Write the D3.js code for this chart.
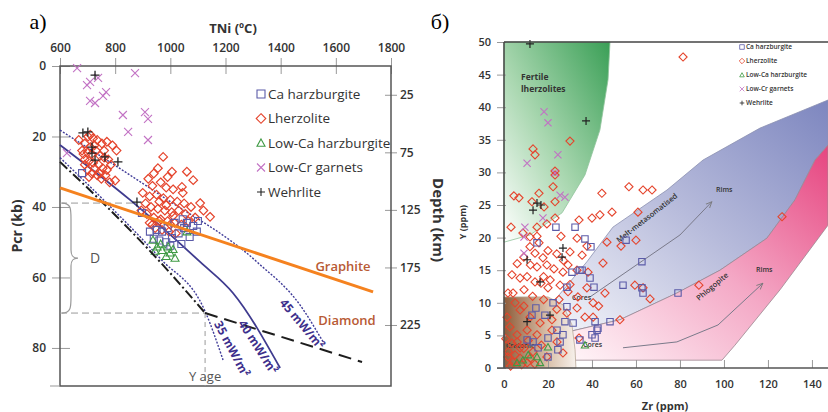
<!DOCTYPE html>
<html>
<head>
<meta charset="utf-8">
<script src="https://cdn.jsdelivr.net/npm/d3@7"></script>
<style>
  body { margin: 0; background: #fff; }
  text { font-family: "Open Sans", "Noto Sans", sans-serif; }
</style>
</head>
<body>
<div id="chart"></div>
<script>
// ---------- panel a) : TNi vs Pcr ----------
const tniTicks = [600, 800, 1000, 1200, 1400, 1600, 1800];
const pcrTicks = [0, 20, 40, 60, 80];
const depthTicks = [25, 75, 125, 175, 225];

const lherzA = [
  [668,21],[690,22],[702,20],[710,19.5],[720,20.5],[735,21],[752,22],[770,21.5],[790,22.5],[805,24],
  [680,24],[700,24.5],[715,25],[730,24],[745,25.5],[760,26],[775,26.5],[690,26.5],[705,27],[720,27.5],
  [740,28],[755,29],[770,29.5],[700,29.5],[715,30.5],[735,31],[750,32],[765,31],[780,33],[800,32.5],
  [690,28],[710,23],[725,22.5],[760,24],[725,29],[685,25],[745,30.5],[785,28],[705,31.5],
  [974,25.8],[955,29],[940,30.5],[1006,30],[1060,30],[1083,32.4],[1042,34.3],[1108,38.9],[1144,42.8],
  [920,32],[935,34],[965,33],[985,34.5],[1010,35],[900,36],[925,37],[950,36.5],[975,37.5],[1000,38],
  [1025,38.5],[1050,39],[1075,40],[910,39],[930,40],[955,40.5],[980,41],[1005,41.5],[1030,41],[1055,42],
  [915,42],[940,43],[965,43.5],[990,44],[1015,44.5],[1040,45],[1065,44],[945,46],[970,46.5],[995,47],
  [1020,47.5],[960,38.5],[985,39.5],[1010,42.5],[935,45],[895,41],[1090,43],[1045,36],[990,31.5],
  [1120,41],[1000,45],[960,44],[925,44.5]
];
const caHarzA = [
  [926,47],[950,46.5],[970,47],[990,46],[1006,48.8],[1030,47.5],[1050,46],[1083,45.4],[1096,47],
  [1070,48.5],[960,49.5],[985,50],[1040,50.5],[1015,44.5],[1060,44.5],[940,49],[1100,44],[897,41.7],
  [680,30.4],[1000,51],[1045,43.5]
];
const lowCaA = [
  [937,49.4],[952,51.3],[965,50.5],[970,52.3],[992,51.3],[999,53],[1010,52],[1017,54.5],[985,54],
  [945,52.5],[1060,47]
];
const lowCrA = [
  [662,0.6],[872,2],[698,5.4],[709,4.5],[738,3.4],[767,7.4],[756,8.5],[709,9.9],[727,10.5],
  [828,13.9],[908,13.1],[919,15],[847,18.7],[919,21],[625,24.7]
];
const wehrA = [
  [727,2.6],[683,19],[701,18.7],[716,23],[716,24.7],[763,25.8],[810,27.2],[727,26.7],[879,38.6]
];

const graphiteLine = [[600,34.6],[1735,64.1]];
const geo45 = [[600,18.2],[963,36.6],[1314,55.6],[1470,67.8],[1554,78.3]];
const geo40 = [[600,22.4],[854,38],[1108,55.6],[1227,64.4],[1398,85.7]];
const geo35 = [[600,26],[781,39.8],[963,54.6],[1126,69.6],[1191,83.4]];
const ageGeotherm = [[600,27.2],[781,40.8],[963,55.6],[1126,70.1]];
const ageTail = [[1126,70.1],[1695,84]];
const dLevels = [38.9, 70.1];
const yAgeT = 1126;

// ---------- panel б) : Zr vs Y ----------
const zrTicks = [0, 20, 40, 60, 80, 100, 120, 140];
const yTicks = [0, 5, 10, 15, 20, 25, 30, 35, 40, 45, 50];

const lherzB = [
  [13.2,33.6],[14.1,32.7],[30,34.8],[23.2,30.2],[23.2,29.6],[22.3,27.8],[4.5,26.4],[6.8,26.1],[15.9,26.8],
  [12.7,25.5],[18.2,24.7],[23.2,25.5],[23.2,23],[19.5,22.1],[15,21.6],[3.2,21.6],[8.6,20.7],[11.8,20.1],
  [15,20.2],[15.9,19.2],[25.9,20.2],[34.1,22.7],[40,23],[43.6,23.5],[49.1,23.9],[44.5,26.8],[56.8,27.8],
  [63.2,27.3],[67.3,27.3],[60.9,23.9],[33.2,19.9],[37.7,18.7],[46.8,19.3],[53.2,18.7],[60,19.6],[45,16.1],
  [126.4,23.2],[35.5,17.3],[11.8,18.6],[14.1,17.6],[17.7,16.9],[81.4,47.7],
  [3.6,14.3],[7.3,13.8],[10.5,14],[15,15.5],[19.5,15.8],[22.7,15.2],[26.8,14.7],[29.1,15.8],[33.2,15],
  [38.2,14.7],[1.8,11.5],[4.1,11.5],[9.1,12],[14.1,13.2],[16.8,13],[20,12.3],[25.5,12.7],[29.1,11.7],
  [33.6,10.9],[37.7,12.3],[40.5,10],[45.9,11.5],[33.2,9.2],[36.8,7.8],[40.5,7.8],[28.6,8.4],[52.7,7.4],
  [59.5,12.7],[63.2,12.3],[66.4,10.6],[88.6,12.7],[34.1,4.6],[26.8,2.3],[7.3,8.9],[11.8,7.8],[16.4,6.9],
  [10.5,5.8],[15,5.1],[5.9,5.1],[21.8,5.8],[3.6,3.8],[7.3,3.1],[13.2,2.5],[19.5,1.7],[1.8,1.7],[4.1,0.9],
  [7.3,1.5],[10.5,0.8],[24.1,4],[21.8,7.4],[1.4,7.8],[2.7,6.3],
  [2,2.5],[5,2],[8,0.5],[12,1.5],[3,0.3],[6,4],[9,3],[11,4.2],[14,0.6],[17,3.5],[0.8,4.5],[9,9.5],
  [5,10],[18,10.5],[24,9],[13,11],[6,16],[9,17],[20,18],[24,17.5],[27,16.5],[30,17.8],[21,13.5],
  [12,15.8],[18,14],[25,10.5],[30,12.8],[43,9.5]
];
const caHarzB = [
  [23.6,21.6],[32.3,21.6],[36.8,19.8],[39.5,18.6],[15,19.2],[55.5,19.6],[62.7,16.3],[35.5,15],
  [30.9,14.7],[34.5,15],[39.1,13.8],[40.9,12.4],[28.6,12.4],[54.1,12.7],[62.7,12.3],[63.2,11.5],
  [79.1,11.5],[22.3,10],[14.5,9.2],[28.6,9.4],[27.7,7.1],[31.4,6.9],[41.4,7.1],[48.2,7.1],[42.7,6.1],
  [42.3,5.8],[40,5.1],[41.4,4.6],[34.5,4.3],[24.1,5.8],[26.8,5.1],[25.5,4],[20,4.6],[10.5,4.3],
  [13.2,4],[15.5,3.1],[24.5,2.8],[20,1.7],[18.6,8.1],[12.7,8.1]
];
const lowCaB = [[8.6,1.2],[16.4,0.8],[15,1.7],[20,3.2],[36.8,3.5],[5.9,0.8],[11,2]];
const lowCrB = [
  [10.5,31.4],[24.5,32.7],[23.2,29.9],[25.5,26.5],[27.7,26.2],[17.7,23],[9.5,21.6],[9.1,20.1],
  [9.1,17.6],[18.2,39.3],[20,37.6]
];
const wehrB = [
  [11.8,49.7],[37.3,37.9],[15,25.3],[13.2,24.2],[16.8,25],[26.8,18.4],[26.4,17],[10.5,16.6],
  [16.4,13.2],[10.5,7.1],[20.9,8.1]
];

const fertileField = [[0,50],[48.2,50],[47.3,44.2],[43.6,36.5],[36.8,29.6],[26.4,23.8],[11.8,20.4],[0,19.3]];
const cratonicField = [[0,10.9],[20,10.9],[26.8,9.7],[30.9,6.6],[32.3,2.8],[32.7,0],[0,0]];
const meltField = [
  [20.9,7.7],[22.3,10.1],[37.7,16.3],[49.5,21.6],[74.1,27.3],[90.5,31.9],[116.4,36.8],[147.3,41.1],
  [147.3,34.2],[141.4,31.9],[132.3,25.8],[119.5,19.9],[98.2,15],[78.6,11.5],[52.7,7.4],[28.6,5.5]
];
const phlogField = [
  [28.6,5.5],[52.7,7.4],[78.6,11.5],[98.2,15],[119.5,19.9],[132.3,25.8],[141.4,31.9],[147.3,34.2],
  [147.3,21.9],[125.5,12],[105,3.5],[99.1,1.2],[31.4,1.2],[30,3.5]
];
const meltArrow = [[39.1,10.9],[80,20.4],[94.5,25.5]];
const phlogArrow = [[54.1,3.1],[78.6,4.0],[97.3,6.6],[117.7,13]];

const legendNames = ['Ca harzburgite', 'Lherzolite', 'Low-Ca harzburgite', 'Low-Cr garnets', 'Wehrlite'];
const legendTypes = ['square', 'diamond', 'triangle', 'cross', 'plus'];
const typeColor = { square: '#5b5ba8', diamond: '#e5442c', triangle: '#3f9a44', cross: '#c272c4', plus: '#222' };

// ---------- setup ----------
const svg = d3.select('#chart').append('svg').attr('width', 828).attr('height', 412);
const defs = svg.append('defs');

function markerPath(type, s) {
  if (type === 'square') return `M${-s},${-s}h${2 * s}v${2 * s}h${-2 * s}Z`;
  if (type === 'diamond') return `M0,${-s * 1.2}L${s * 1.2},0L0,${s * 1.2}L${-s * 1.2},0Z`;
  if (type === 'triangle') return `M0,${-s}L${s},${s * 0.8}L${-s},${s * 0.8}Z`;
  if (type === 'cross') return `M${-s},${-s}L${s},${s}M${-s},${s}L${s},${-s}`;
  return `M${-s},0H${s}M0,${-s}V${s}`;
}

function drawPoints(g, data, type, x, y, s, sw) {
  g.append('g').selectAll('path').data(data).join('path')
    .attr('transform', d => `translate(${x(d[0])},${y(d[1])})`)
    .attr('d', markerPath(type, s))
    .attr('fill', 'none')
    .attr('stroke', typeColor[type])
    .attr('stroke-width', sw);
}

function grad(id, x1, y1, x2, y2, stops) {
  const lg = defs.append('linearGradient').attr('id', id)
    .attr('x1', x1).attr('y1', y1).attr('x2', x2).attr('y2', y2);
  stops.forEach(s => lg.append('stop').attr('offset', s[0]).attr('stop-color', s[1]));
}
grad('gGreen', 1, 0, 0, 1, [[0, '#3a9f56'], [0.55, '#a9d7b0'], [1, '#ffffff']]);
grad('gBrown', 0, 0, 1, 0, [[0, '#8e5c3a'], [0.6, '#d9bfa8'], [1, '#f7f1ec']]);
grad('gBlue', 0, 1, 1, 0, [[0, '#f4f5fa'], [0.5, '#b7bbdb'], [1, '#7d86bf']]);
grad('gPink', 0, 1, 1, 0, [[0, '#fff6f9'], [0.5, '#f4a9c6'], [1, '#e6447f']]);

defs.append('marker').attr('id', 'arrow').attr('viewBox', '0 0 10 10')
  .attr('refX', 9).attr('refY', 5).attr('markerWidth', 7).attr('markerHeight', 7)
  .attr('orient', 'auto')
  .append('path').attr('d', 'M0,1L9,5L0,9').attr('fill', 'none').attr('stroke', '#777').attr('stroke-width', 1.2);

// ================= panel a =================
const xT = d3.scaleLinear().domain([600, 1800]).range([60, 391]);
const yP = d3.scaleLinear().domain([0, 90.8]).range([66, 386]);
const yD = d3.scaleLinear().domain([0, 278]).range([66, 386]);
const lineA = d3.line().x(d => xT(d[0])).y(d => yP(d[1])).curve(d3.curveMonotoneX);

const ga = svg.append('g');

ga.append('text').attr('x', 38).attr('y', 29).attr('text-anchor', 'middle')
  .style('font-family', '"Liberation Serif", "DejaVu Serif", serif').style('font-size', '22px').text('a)');

// axes
const topAxis = ga.append('g').attr('transform', 'translate(0,74)')
  .call(d3.axisTop(xT).tickValues(tniTicks).tickSize(16).tickPadding(6).tickFormat(d3.format('d')));
const leftAxis = ga.append('g').attr('transform', 'translate(70,0)')
  .call(d3.axisLeft(yP).tickValues(pcrTicks).tickSize(18).tickPadding(6));
const rightAxis = ga.append('g').attr('transform', 'translate(385,0)')
  .call(d3.axisRight(yD).tickValues(depthTicks).tickSize(12).tickPadding(3));
[topAxis, leftAxis, rightAxis].forEach(a => {
  a.select('.domain').remove();
  a.selectAll('line').attr('stroke', '#999');
  a.selectAll('text').attr('fill', '#333').style('font-size', '12px').style('font-weight', 600)
    .style('font-family', '"Open Sans", sans-serif');
});

// frame
ga.append('rect').attr('x', 60).attr('y', 66).attr('width', 331).attr('height', 320)
  .attr('fill', 'none').attr('stroke', '#555').attr('stroke-width', 1.5);
ga.append('line').attr('x1', 50).attr('x2', 60).attr('y1', 386).attr('y2', 386).attr('stroke', '#999');

ga.append('text').attr('x', 233).attr('y', 33).attr('text-anchor', 'middle')
  .attr('fill', '#333').style('font-size', '13px').style('font-weight', 700).text('TNi (ºC)');
ga.append('text').attr('transform', 'translate(22,226) rotate(-90)').attr('text-anchor', 'middle')
  .attr('fill', '#333').style('font-size', '14px').style('font-weight', 700).text('Pcr (kb)');
ga.append('text').attr('transform', 'translate(433,220) rotate(90)').attr('text-anchor', 'middle')
  .attr('fill', '#333').style('font-size', '15px').style('font-weight', 700).text('Depth (km)');

// D bracket guides
ga.append('line').attr('x1', xT(600)).attr('x2', xT(870)).attr('y1', yP(dLevels[0])).attr('y2', yP(dLevels[0]))
  .attr('stroke', '#999').attr('stroke-dasharray', '7,4');
ga.append('line').attr('x1', xT(600)).attr('x2', xT(yAgeT)).attr('y1', yP(dLevels[1])).attr('y2', yP(dLevels[1]))
  .attr('stroke', '#999').attr('stroke-dasharray', '7,4');
ga.append('line').attr('x1', xT(yAgeT)).attr('x2', xT(yAgeT)).attr('y1', yP(dLevels[1])).attr('y2', yP(90.8))
  .attr('stroke', '#999').attr('stroke-dasharray', '5,4');
{
  const y1 = yP(dLevels[0]), y2 = yP(dLevels[1]), ym = (y1 + y2) / 2, x0 = 62, xb = 71, xt = 78;
  ga.append('path')
    .attr('d', `M${x0},${y1}C${xb},${y1} ${xb},${y1 + 6} ${xb},${y1 + 16}L${xb},${ym - 8}C${xb},${ym - 2} ${xb + 2},${ym} ${xt},${ym}` +
      `C${xb + 2},${ym} ${xb},${ym + 2} ${xb},${ym + 8}L${xb},${y2 - 16}C${xb},${y2 - 6} ${xb},${y2} ${x0},${y2}`)
    .attr('fill', 'none').attr('stroke', '#999').attr('stroke-width', 1.2);
  ga.append('text').attr('x', 95).attr('y', ym + 5).attr('text-anchor', 'middle')
    .attr('fill', '#555').style('font-size', '14px').text('D');
}
ga.append('text').attr('x', xT(yAgeT)).attr('y', 381).attr('text-anchor', 'middle')
  .attr('fill', '#555').style('font-size', '13px').text('Y age');

// geotherms
ga.append('path').attr('d', lineA(geo45)).attr('fill', 'none').attr('stroke', '#3f3b98')
  .attr('stroke-width', 1.4).attr('stroke-dasharray', '2,1.5');
ga.append('path').attr('d', lineA(geo40)).attr('fill', 'none').attr('stroke', '#3f3b8f').attr('stroke-width', 1.8);
ga.append('path').attr('d', lineA(geo35)).attr('fill', 'none').attr('stroke', '#3f3b98')
  .attr('stroke-width', 1.4).attr('stroke-dasharray', '2,1.5');

// points
drawPoints(ga, lowCrA, 'cross', xT, yP, 4, 1.1);
drawPoints(ga, lherzA, 'diamond', xT, yP, 3.6, 1.2);
drawPoints(ga, caHarzA, 'square', xT, yP, 3.5, 1.1);
drawPoints(ga, lowCaA, 'triangle', xT, yP, 4, 1.1);
drawPoints(ga, wehrA, 'plus', xT, yP, 4.5, 1.3);

ga.append('path').attr('d', lineA(ageGeotherm)).attr('fill', 'none').attr('stroke', '#1d1d1d')
  .attr('stroke-width', 2).attr('stroke-dasharray', '10,3,2,3');
ga.append('path').attr('d', lineA(ageTail)).attr('fill', 'none').attr('stroke', '#1d1d1d')
  .attr('stroke-width', 2).attr('stroke-dasharray', '13,7');
ga.append('path').attr('d', lineA(graphiteLine)).attr('fill', 'none').attr('stroke', '#f5821f').attr('stroke-width', 3);

ga.append('text').attr('x', 343).attr('y', 271).attr('text-anchor', 'middle').attr('fill', '#b85a34')
  .style('font-size', '13px').style('font-weight', 600).text('Graphite');
ga.append('text').attr('x', 347).attr('y', 325).attr('text-anchor', 'middle').attr('fill', '#b85a34')
  .style('font-size', '13px').style('font-weight', 600).text('Diamond');

[['35 mW/m²', 232, 349, 62], ['40 mW/m²', 258, 347, 57], ['45 mW/m²', 302, 324, 50]].forEach(l => {
  ga.append('text').attr('transform', `translate(${l[1]},${l[2]}) rotate(${l[3]})`)
    .attr('text-anchor', 'middle').attr('dy', '0.35em').attr('fill', '#3d2f8c')
    .style('font-size', '12px').style('font-weight', 700).text(l[0]);
});

// legend a
const legA = ga.append('g').selectAll('g').data(legendNames).join('g')
  .attr('transform', (d, i) => `translate(261,${94 + i * 24.5})`);
legA.append('path').attr('d', (d, i) => markerPath(legendTypes[i], 4))
  .attr('fill', 'none').attr('stroke', (d, i) => typeColor[legendTypes[i]]).attr('stroke-width', 1.1);
legA.append('text').attr('x', 7).attr('dy', '0.35em').attr('fill', '#333').style('font-size', '13.5px').text(d => d);

// ================= panel б =================
const xZ = d3.scaleLinear().domain([0, 147.3]).range([504, 828]);
const yY = d3.scaleLinear().domain([0, 50]).range([368, 42]);
const lineB = d3.line().x(d => xZ(d[0])).y(d => yY(d[1]));

const gb = svg.append('g');
gb.append('text').attr('x', 440).attr('y', 29).attr('text-anchor', 'middle')
  .style('font-family', '"Liberation Serif", "DejaVu Serif", serif').style('font-size', '22px').text('б)');

// fields
gb.append('path').attr('d', lineB(meltField) + 'Z').attr('fill', 'url(#gBlue)').attr('stroke', '#8a8fb0').attr('stroke-width', 0.8);
gb.append('path').attr('d', lineB(phlogField) + 'Z').attr('fill', 'url(#gPink)').attr('stroke', '#9a8890').attr('stroke-width', 0.8);
gb.append('path').attr('d', lineB(fertileField) + 'Z').attr('fill', 'url(#gGreen)').attr('stroke', '#8fc39a').attr('stroke-width', 0.8);
gb.append('path').attr('d', lineB(cratonicField) + 'Z').attr('fill', 'url(#gBrown)').attr('stroke', '#b9a898').attr('stroke-width', 0.8);

gb.append('path').attr('d', lineB(meltArrow)).attr('fill', 'none').attr('stroke', '#7a7a8a')
  .attr('stroke-width', 1).attr('marker-end', 'url(#arrow)');
gb.append('path').attr('d', lineB(phlogArrow)).attr('fill', 'none').attr('stroke', '#7a7a8a')
  .attr('stroke-width', 1).attr('marker-end', 'url(#arrow)');

const smallTxt = (x, y, t, rot, size, weight) => gb.append('text')
  .attr('transform', `translate(${x},${y}) rotate(${rot || 0})`)
  .attr('fill', '#333').style('font-size', (size || 7) + 'px').style('font-weight', weight || 600).text(t);
smallTxt(521, 80, 'Fertile', 0, 8.5, 700);
smallTxt(521, 92, 'lherzolites', 0, 8.5, 700);
smallTxt(716, 192, 'Rims', 0, 7);
smallTxt(756, 272, 'Rims', 0, 7);
smallTxt(572, 300, 'Cores', 0, 7);
smallTxt(583, 347, 'Cores', 0, 7);
smallTxt(506, 348, 'Cratonic', 0, 7);
smallTxt(619, 243, 'Melt-metasomatised', -38, 7.5);
smallTxt(699, 301, 'Phlogopite', -40, 7.5);

drawPoints(gb, lherzB, 'diamond', xZ, yY, 3.4, 1.1);
drawPoints(gb, caHarzB, 'square', xZ, yY, 3.2, 1.1);
drawPoints(gb, lowCaB, 'triangle', xZ, yY, 3.6, 1.1);
drawPoints(gb, lowCrB, 'cross', xZ, yY, 3.6, 1.1);
drawPoints(gb, wehrB, 'plus', xZ, yY, 4, 1.2);

// axes b
const bAxisL = gb.append('g').attr('transform', 'translate(506,0)')
  .call(d3.axisLeft(yY).tickValues(yTicks).tickSize(9).tickPadding(6));
const bAxisB = gb.append('g').attr('transform', 'translate(0,360)')
  .call(d3.axisBottom(xZ).tickValues(zrTicks).tickSize(8).tickPadding(12));
[bAxisL, bAxisB].forEach(a => {
  a.select('.domain').remove();
  a.selectAll('line').attr('stroke', '#999');
  a.selectAll('text').attr('fill', '#333').style('font-size', '11px').style('font-weight', 600)
    .style('font-family', '"Open Sans", sans-serif');
});
gb.append('line').attr('x1', 504).attr('x2', 504).attr('y1', 42).attr('y2', 368).attr('stroke', '#444').attr('stroke-width', 1.5);
gb.append('line').attr('x1', 504).attr('x2', 828).attr('y1', 42).attr('y2', 42).attr('stroke', '#444').attr('stroke-width', 1.5);
gb.append('line').attr('x1', 497).attr('x2', 828).attr('y1', 368).attr('y2', 368).attr('stroke', '#555').attr('stroke-width', 1.5);

gb.append('text').attr('x', 665).attr('y', 410).attr('text-anchor', 'middle')
  .attr('fill', '#333').style('font-size', '11px').style('font-weight', 700).text('Zr (ppm)');
gb.append('text').attr('transform', 'translate(466,222) rotate(-90)').attr('text-anchor', 'middle')
  .attr('fill', '#333').style('font-size', '9px').style('font-weight', 700).text('Y (ppm)');

// legend b
const legB = gb.append('g').selectAll('g').data(legendNames).join('g')
  .attr('transform', (d, i) => `translate(742,${47 + i * 14})`);
legB.append('path').attr('d', (d, i) => markerPath(legendTypes[i], 2.3))
  .attr('fill', 'none').attr('stroke', (d, i) => typeColor[legendTypes[i]]).attr('stroke-width', 0.8);
legB.append('text').attr('x', 4).attr('dy', '0.35em').attr('fill', '#333').style('font-size', '6.5px')
  .style('font-weight', 600).text(d => d);
</script>
</body>
</html>
